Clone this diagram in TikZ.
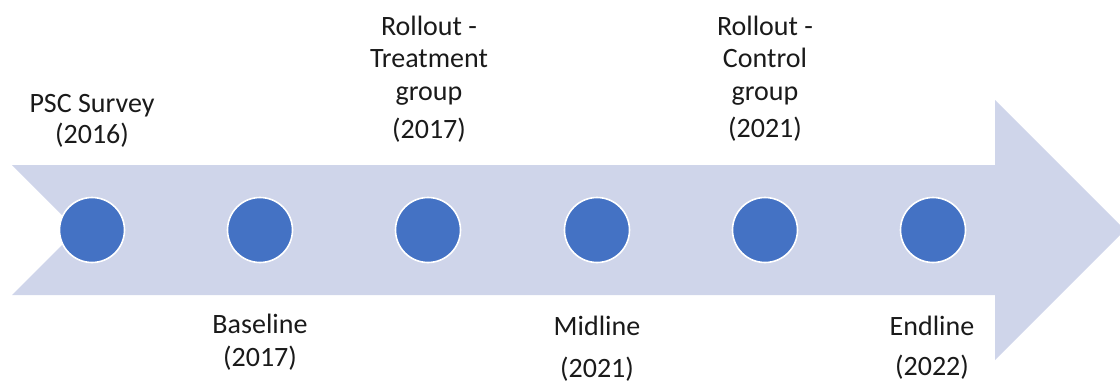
\documentclass[tikz,border=0pt]{standalone}
\usepackage{fontspec}
\setmainfont{Carlito}
\definecolor{arrowfill}{HTML}{CFD5EA}
\definecolor{dotfill}{HTML}{4472C4}
\definecolor{txt}{HTML}{1A1A1A}
\begin{document}
\begin{tikzpicture}[x=1pt,y=-1pt,
  dot/.style={circle,fill=dotfill,draw=white,line width=1.6pt,minimum size=65pt,inner sep=0pt},
  lbl/.style={anchor=base,inner sep=0pt,text=txt,font=\fontsize{28}{33}\selectfont}]
\useasboundingbox (0,0) rectangle (1120,383);
\fill[arrowfill] (12,165) -- (995,165) -- (995,100) -- (1125,230) -- (995,360) -- (995,295) -- (12,295) -- (77,230) -- cycle;
\node[dot] (c1) at (92,230) {};
\node[dot] (c2) at (260,230) {};
\node[dot] (c3) at (428,230) {};
\node[dot] (c4) at (597,230) {};
\node[dot] (c5) at (765,230) {};
\node[dot] (c6) at (933,230) {};
% PSC Survey
\node[lbl] (psc1) at (92,112) {PSC Survey};
\node[lbl] (psc2) at (92,143) {(2016)};
% Baseline
\node[lbl] (base1) at (260,333) {Baseline};
\node[lbl] (base2) at (260,366) {(2017)};
% Rollout treatment
\node[lbl] (rt1) at (429,35) {Rollout -};
\node[lbl] (rt2) at (429,67) {Treatment};
\node[lbl] (rt3) at (429,100) {group};
\node[lbl] (rt4) at (429,138) {(2017)};
% Midline
\node[lbl] (mid1) at (597,335) {Midline};
\node[lbl] (mid2) at (597,377) {(2021)};
% Rollout control
\node[lbl] (rc1) at (765,35) {Rollout -};
\node[lbl] (rc2) at (765,67) {Control};
\node[lbl] (rc3) at (765,100) {group};
\node[lbl] (rc4) at (765,137) {(2021)};
% Endline
\node[lbl] (end1) at (932,335) {Endline};
\node[lbl] (end2) at (932,375) {(2022)};
\end{tikzpicture}
\end{document}
